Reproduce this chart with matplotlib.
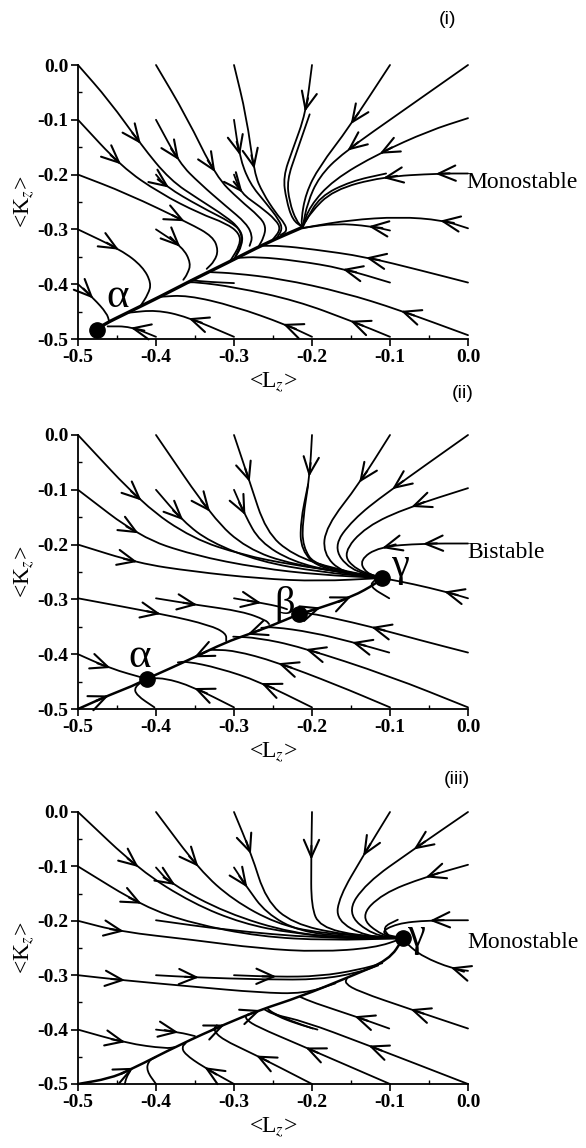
import matplotlib.pyplot as plt
import numpy as np
from matplotlib.path import Path
from matplotlib.patches import PathPatch

plt.rcParams['font.family'] = ['Liberation Serif', 'DejaVu Serif']
plt.rcParams['mathtext.fontset'] = 'stix'
plt.rcParams['axes.unicode_minus'] = False

# ---- panel (i): monostable, node alpha ----
p1_alpha = (-0.476, -0.484)
p1_manifold = [(-0.212, -0.296), (-0.259, -0.325), (-0.310, -0.362), (-0.353, -0.392),
               (-0.395, -0.423), (-0.438, -0.453), (-0.468, -0.474), (-0.476, -0.484)]
p1_curves = [
    [(-0.5, 0.0), (-0.46, -0.065), (-0.419, -0.146), (-0.382, -0.21), (-0.344, -0.246),
     (-0.31, -0.277), (-0.293, -0.298), (-0.289, -0.322), (-0.30, -0.355)],
    [(-0.5, -0.1), (-0.444, -0.186), (-0.395, -0.234), (-0.344, -0.271), (-0.31, -0.289),
     (-0.293, -0.307), (-0.292, -0.328), (-0.305, -0.358)],
    [(-0.5, -0.2), (-0.438, -0.234), (-0.357, -0.289), (-0.327, -0.313), (-0.320, -0.338),
     (-0.325, -0.358), (-0.335, -0.372)],
    [(-0.5, -0.3), (-0.444, -0.338), (-0.417, -0.368), (-0.406, -0.398), (-0.41, -0.418),
     (-0.42, -0.44)],
    [(-0.5, -0.4), (-0.48, -0.426), (-0.463, -0.453), (-0.46, -0.468)],
    [(-0.4, -0.1), (-0.37, -0.179), (-0.344, -0.216), (-0.31, -0.258), (-0.284, -0.289),
     (-0.276, -0.313), (-0.28, -0.33)],
    [(-0.4, -0.2), (-0.387, -0.222), (-0.344, -0.258), (-0.301, -0.289), (-0.289, -0.307),
     (-0.29, -0.33), (-0.298, -0.35)],
    [(-0.4, -0.3), (-0.366, -0.332), (-0.355, -0.362), (-0.36, -0.382), (-0.365, -0.392)],
    [(-0.4, 0.0), (-0.361, -0.094), (-0.323, -0.204), (-0.293, -0.246), (-0.267, -0.277),
     (-0.259, -0.295), (-0.262, -0.315), (-0.268, -0.33)],
    [(-0.3, 0.0), (-0.284, -0.094), (-0.274, -0.198), (-0.263, -0.234), (-0.246, -0.271),
     (-0.235, -0.289), (-0.232, -0.303), (-0.24, -0.31)],
    [(-0.3, -0.1), (-0.293, -0.167), (-0.280, -0.216), (-0.259, -0.252), (-0.242, -0.283),
     (-0.238, -0.30), (-0.245, -0.315)],
    [(-0.3, -0.2), (-0.291, -0.234), (-0.267, -0.258), (-0.246, -0.283), (-0.24, -0.30),
     (-0.25, -0.318)],
    [(-0.2, 0.0), (-0.208, -0.088), (-0.225, -0.155), (-0.237, -0.204), (-0.233, -0.246),
     (-0.225, -0.283), (-0.212, -0.296)],
    [(-0.203, -0.09), (-0.22, -0.16), (-0.232, -0.21), (-0.229, -0.25), (-0.22, -0.285),
     (-0.212, -0.296)],
    [(-0.1, 0.0), (-0.152, -0.113), (-0.191, -0.186), (-0.208, -0.234), (-0.214, -0.283),
     (-0.212, -0.296)],
    [(0.0, 0.0), (-0.08, -0.08), (-0.161, -0.161), (-0.191, -0.204), (-0.206, -0.252),
     (-0.212, -0.296)],
    [(0.0, -0.097), (-0.05, -0.12), (-0.114, -0.161), (-0.173, -0.21), (-0.203, -0.258),
     (-0.212, -0.296)],
    [(0.0, -0.198), (-0.037, -0.198), (-0.11, -0.204), (-0.173, -0.228), (-0.203, -0.271),
     (-0.212, -0.296)],
    [(-0.105, -0.198), (-0.15, -0.212), (-0.19, -0.24), (-0.208, -0.285)],
    [(0.0, -0.298), (-0.033, -0.283), (-0.088, -0.277), (-0.152, -0.283), (-0.203, -0.295),
     (-0.212, -0.298)],
    [(-0.1, -0.302), (-0.125, -0.294), (-0.17, -0.289), (-0.21, -0.297)],
    [(0.0, -0.397), (-0.06, -0.375), (-0.131, -0.35), (-0.2, -0.336), (-0.24, -0.33),
     (-0.262, -0.33)],
    [(-0.1, -0.397), (-0.161, -0.371), (-0.22, -0.357), (-0.27, -0.35), (-0.295, -0.352)],
    [(0.0, -0.493), (-0.088, -0.447), (-0.16, -0.415), (-0.24, -0.39), (-0.3, -0.38),
     (-0.33, -0.378)],
    [(-0.1, -0.496), (-0.148, -0.468), (-0.22, -0.43), (-0.30, -0.405), (-0.35, -0.396),
     (-0.36, -0.397)],
    [(-0.2, -0.496), (-0.233, -0.474), (-0.30, -0.44), (-0.36, -0.42), (-0.395, -0.423)],
    [(-0.3, -0.496), (-0.361, -0.459), (-0.40, -0.447), (-0.435, -0.452)],
    [(-0.4, -0.496), (-0.433, -0.477), (-0.462, -0.477)],
    [(-0.3, -0.398), (-0.33, -0.396), (-0.355, -0.393)],
]
p1_arrow_at = [[2], [1], [2], [1], [1], [1], [1], [1], [2], [2], [1], [1], [1], [], [1], [2],
               [2], [1, 2], [], [1], [1], [2], [1], [1], [1], [1], [1], [1], []]

# ---- panel (ii): bistable, nodes alpha, gamma and saddle beta ----
p2_alpha = (-0.412, -0.445)
p2_beta = (-0.217, -0.327)
p2_gamma = (-0.110, -0.261)
p2_manifold = [
    [(-0.217, -0.327), (-0.25, -0.347), (-0.284, -0.365), (-0.31, -0.378), (-0.353, -0.407),
     (-0.382, -0.426), (-0.412, -0.445)],
    [(-0.217, -0.327), (-0.191, -0.316), (-0.148, -0.295), (-0.118, -0.271), (-0.11, -0.261)],
    [(-0.5, -0.5), (-0.459, -0.474), (-0.43, -0.458), (-0.412, -0.445)],
]
p2_manifold_arrows = [[2, 4], [1, 2], [1]]
p2_curves = [
    [(-0.5, 0.0), (-0.416, -0.128), (-0.353, -0.189), (-0.289, -0.219), (-0.225, -0.237),
     (-0.16, -0.25), (-0.11, -0.261)],
    [(-0.5, -0.1), (-0.421, -0.186), (-0.353, -0.219), (-0.267, -0.243), (-0.191, -0.255),
     (-0.11, -0.261)],
    [(-0.5, -0.2), (-0.423, -0.234), (-0.353, -0.249), (-0.267, -0.262), (-0.191, -0.267),
     (-0.11, -0.261)],
    [(-0.4, 0.0), (-0.327, -0.152), (-0.284, -0.207), (-0.225, -0.237), (-0.11, -0.261)],
    [(-0.3, 0.0), (-0.28, -0.085), (-0.259, -0.176), (-0.225, -0.219), (-0.17, -0.245),
     (-0.11, -0.261)],
    [(-0.4, -0.1), (-0.365, -0.158), (-0.331, -0.195), (-0.267, -0.231), (-0.19, -0.25),
     (-0.11, -0.261)],
    [(-0.3, -0.1), (-0.286, -0.146), (-0.267, -0.195), (-0.225, -0.231), (-0.17, -0.25),
     (-0.11, -0.261)],
    [(-0.2, 0.0), (-0.203, -0.076), (-0.212, -0.155), (-0.212, -0.204), (-0.195, -0.240),
     (-0.11, -0.261)],
    [(-0.205, -0.09), (-0.215, -0.16), (-0.214, -0.21), (-0.19, -0.245), (-0.11, -0.261)],
    [(-0.1, 0.0), (-0.139, -0.088), (-0.182, -0.167), (-0.186, -0.216), (-0.161, -0.252),
     (-0.11, -0.261)],
    [(0.0, 0.0), (-0.105, -0.106), (-0.148, -0.155), (-0.173, -0.204), (-0.152, -0.246),
     (-0.11, -0.261)],
    [(0.0, -0.097), (-0.075, -0.131), (-0.131, -0.167), (-0.161, -0.216), (-0.144, -0.246),
     (-0.11, -0.261)],
    [(0.0, -0.198), (-0.058, -0.198), (-0.114, -0.204), (-0.139, -0.228), (-0.131, -0.252),
     (-0.11, -0.261)],
    [(0.0, -0.298), (-0.029, -0.286), (-0.07, -0.272), (-0.11, -0.261)],
    [(-0.101, -0.298), (-0.127, -0.276), (-0.118, -0.263)],
    [(-0.4, -0.298), (-0.348, -0.310), (-0.289, -0.322), (-0.259, -0.338), (-0.255, -0.345)],
    [(-0.3, -0.298), (-0.263, -0.307), (-0.242, -0.313), (-0.232, -0.318)],
    [(-0.5, -0.298), (-0.387, -0.328), (-0.331, -0.347), (-0.310, -0.362), (-0.31, -0.376)],
    [(-0.5, -0.4), (-0.459, -0.426), (-0.412, -0.445)],
    [(-0.402, -0.497), (-0.425, -0.475), (-0.428, -0.46), (-0.412, -0.445)],
    [(-0.3, -0.497), (-0.353, -0.459), (-0.39, -0.443), (-0.412, -0.445)],
    [(-0.2, -0.497), (-0.267, -0.450), (-0.32, -0.425), (-0.361, -0.413), (-0.372, -0.415)],
    [(-0.1, -0.497), (-0.17, -0.455), (-0.246, -0.414), (-0.30, -0.393), (-0.33, -0.392)],
    [(0.0, -0.497), (-0.1, -0.44), (-0.216, -0.386), (-0.27, -0.37), (-0.301, -0.368)],
    [(0.0, -0.397), (-0.06, -0.375), (-0.127, -0.349), (-0.17, -0.335), (-0.203, -0.325),
     (-0.215, -0.326)],
    [(-0.101, -0.397), (-0.148, -0.378), (-0.2, -0.36), (-0.25, -0.35), (-0.265, -0.352)],
]
p2_arrow_at = [[1], [1], [1], [1], [1], [1], [1], [1], [], [1], [1], [1], [1, 2], [1], [],
               [1], [1], [1], [1], [], [1], [1], [2], [2], [2], [1]]

# ---- panel (iii): monostable, node gamma ----
p3_gamma = (-0.083, -0.232)
p3_manifold = [(-0.5, -0.5), (-0.46, -0.49), (-0.433, -0.474), (-0.37, -0.428),
               (-0.31, -0.389), (-0.267, -0.364), (-0.216, -0.340), (-0.152, -0.303),
               (-0.101, -0.272), (-0.083, -0.232)]
p3_manifold_arrows = [2, 4, 5]
p3_curves = [
    [(-0.5, 0.0), (-0.421, -0.107), (-0.353, -0.168), (-0.289, -0.205), (-0.225, -0.223),
     (-0.15, -0.232), (-0.083, -0.232)],
    [(-0.5, -0.1), (-0.416, -0.174), (-0.353, -0.205), (-0.267, -0.229), (-0.18, -0.236),
     (-0.083, -0.232)],
    [(-0.5, -0.2), (-0.446, -0.220), (-0.353, -0.235), (-0.267, -0.251), (-0.191, -0.257),
     (-0.12, -0.25), (-0.083, -0.232)],
    [(-0.4, -0.199), (-0.31, -0.217), (-0.191, -0.232), (-0.083, -0.232)],
    [(-0.5, -0.3), (-0.444, -0.309), (-0.353, -0.321), (-0.267, -0.332), (-0.21, -0.334),
     (-0.17, -0.315)],
    [(-0.4, -0.3), (-0.35, -0.304), (-0.26, -0.308), (-0.19, -0.308), (-0.14, -0.295),
     (-0.115, -0.282)],
    [(-0.3, -0.3), (-0.246, -0.303), (-0.19, -0.302), (-0.14, -0.29), (-0.11, -0.278)],
    [(-0.4, 0.0), (-0.344, -0.107), (-0.301, -0.162), (-0.246, -0.205), (-0.191, -0.223),
     (-0.083, -0.232)],
    [(-0.4, -0.102), (-0.382, -0.131), (-0.31, -0.186), (-0.225, -0.223), (-0.15, -0.232),
     (-0.083, -0.232)],
    [(-0.3, 0.0), (-0.278, -0.076), (-0.259, -0.162), (-0.225, -0.205), (-0.16, -0.226),
     (-0.083, -0.232)],
    [(-0.3, -0.102), (-0.284, -0.137), (-0.259, -0.186), (-0.216, -0.220), (-0.15, -0.23),
     (-0.083, -0.232)],
    [(-0.2, 0.0), (-0.201, -0.088), (-0.201, -0.174), (-0.19, -0.211), (-0.14, -0.228),
     (-0.083, -0.232)],
    [(-0.1, 0.0), (-0.135, -0.082), (-0.165, -0.156), (-0.169, -0.199), (-0.131, -0.229),
     (-0.083, -0.232)],
    [(0.0, 0.0), (-0.071, -0.070), (-0.131, -0.131), (-0.156, -0.186), (-0.122, -0.227),
     (-0.083, -0.232)],
    [(0.0, -0.097), (-0.054, -0.119), (-0.110, -0.150), (-0.139, -0.193), (-0.11, -0.228),
     (-0.083, -0.232)],
    [(0.0, -0.199), (-0.05, -0.199), (-0.092, -0.205), (-0.114, -0.223), (-0.083, -0.232)],
    [(-0.09, -0.198), (-0.11, -0.212), (-0.1, -0.23)],
    [(0.0, -0.292), (-0.02, -0.288), (-0.058, -0.266), (-0.078, -0.243), (-0.083, -0.232)],
    [(0.0, -0.398), (-0.075, -0.362), (-0.14, -0.33), (-0.158, -0.315), (-0.155, -0.305)],
    [(-0.101, -0.398), (-0.144, -0.376), (-0.199, -0.35), (-0.215, -0.34)],
    [(-0.199, -0.398), (-0.225, -0.385), (-0.25, -0.37), (-0.258, -0.36)],
    [(-0.193, -0.400), (-0.22, -0.389), (-0.245, -0.375), (-0.255, -0.365)],
    [(0.0, -0.5), (-0.135, -0.425), (-0.21, -0.385), (-0.25, -0.372), (-0.262, -0.362)],
    [(-0.1, -0.5), (-0.216, -0.428), (-0.27, -0.395), (-0.284, -0.382), (-0.285, -0.375)],
    [(-0.2, -0.5), (-0.276, -0.444), (-0.315, -0.418), (-0.327, -0.40), (-0.322, -0.392)],
    [(-0.3, -0.5), (-0.34, -0.468), (-0.363, -0.445), (-0.367, -0.432), (-0.362, -0.425)],
    [(-0.4, -0.5), (-0.412, -0.476), (-0.41, -0.458), (-0.4, -0.45)],
    [(-0.44, -0.5), (-0.438, -0.488), (-0.433, -0.476)],
    [(-0.5, -0.4), (-0.438, -0.425), (-0.387, -0.435), (-0.375, -0.432)],
    [(-0.4, -0.4), (-0.37, -0.405), (-0.35, -0.412)],
]
p3_arrow_at = [[1], [1], [1], [], [1], [1], [1], [1], [1], [1], [1], [1], [1], [1], [1], [1],
               [], [1], [1], [1], [], [], [1], [1], [1], [1], [], [], [1], [1]]

ticks = [-0.5, -0.4, -0.3, -0.2, -0.1, 0.0]
tick_labels = ['-0.5', '-0.4', '-0.3', '-0.2', '-0.1', '0.0']

LW = 1.3


def smooth(pts):
    pts = np.asarray(pts, dtype=float)
    if len(pts) < 3:
        return Path(pts), pts
    mids = (pts[:-1] + pts[1:]) / 2
    verts = [pts[0], mids[0]]
    codes = [Path.MOVETO, Path.LINETO]
    for i in range(1, len(pts) - 1):
        verts += [pts[i], mids[i]]
        codes += [Path.CURVE3, Path.CURVE3]
    verts.append(pts[-1])
    codes.append(Path.LINETO)
    return Path(verts, codes), mids


def draw_curve(ax, pts, arrows, lw=LW):
    path, mids = smooth(pts)
    ax.add_patch(PathPatch(path, fill=False, lw=lw, ec='k', capstyle='round',
                           joinstyle='round', clip_on=False))
    pts = np.asarray(pts, dtype=float)
    for i in arrows:
        if 0 < i < len(pts) - 1:
            tip = 0.25 * mids[i - 1] + 0.5 * pts[i] + 0.25 * mids[i]
            tang = mids[i] - mids[i - 1]
        else:
            tip = pts[i]
            tang = pts[min(i + 1, len(pts) - 1)] - pts[max(i - 1, 0)]
        tp = ax.transData.transform(tip)
        d = ax.transData.transform(tip + tang * 1e-3) - tp
        d = d / np.hypot(*d)
        tail = ax.transData.inverted().transform(tp - d * 14)
        ax.annotate('', xy=tip, xytext=tail,
                    arrowprops=dict(arrowstyle='->,head_length=1.25,head_width=0.55',
                                    lw=1.5, color='k', shrinkA=0, shrinkB=0))


def setup(ax):
    ax.set_xlim(-0.5, 0.0)
    ax.set_ylim(-0.5, 0.0)
    for s in ['top', 'right']:
        ax.spines[s].set_visible(False)
    for s in ['left', 'bottom']:
        ax.spines[s].set_linewidth(1.3)
    ax.set_xticks(ticks)
    ax.set_xticklabels(tick_labels)
    ax.set_yticks(ticks)
    ax.set_yticklabels(tick_labels)
    ax.set_xticks(np.arange(-0.45, 0.0, 0.1), minor=True)
    ax.set_yticks(np.arange(-0.45, 0.0, 0.1), minor=True)
    ax.tick_params(which='major', direction='out', length=5, width=1.2, pad=2)
    ax.tick_params(which='minor', direction='in', length=3, width=1.0)
    for lab in ax.get_xticklabels() + ax.get_yticklabels():
        lab.set_fontsize(14)
        lab.set_fontweight('bold')
    ax.set_xlabel('<L$_z$>', fontsize=17)
    ax.set_ylabel('<K$_z$>', fontsize=17)
    ax.xaxis.set_label_coords(0.5, -0.115)
    ax.yaxis.set_label_coords(-0.105, 0.5)


W, H = 586, 1148
fig = plt.figure(figsize=(W / 100, H / 100), dpi=100)
left = 78 / W
width = 390 / W
ax1 = fig.add_axes([left, 1 - 339 / H, width, 274 / H])
ax2 = fig.add_axes([left, 1 - 709 / H, width, 274 / H])
ax3 = fig.add_axes([left, 1 - 1084 / H, width, 272 / H])
for ax in (ax1, ax2, ax3):
    setup(ax)

# panel (i)
draw_curve(ax1, p1_manifold, [], lw=2.4)
for c, a in zip(p1_curves, p1_arrow_at):
    draw_curve(ax1, c, a)
ax1.plot(*p1_alpha, 'o', ms=11, color='k', clip_on=False, zorder=5)
ax1.text(-0.449, -0.423, 'α', fontsize=31, ha='center', va='center')

# panel (ii)
for c, a in zip(p2_manifold, p2_manifold_arrows):
    draw_curve(ax2, c, a, lw=1.8)
for c, a in zip(p2_curves, p2_arrow_at):
    draw_curve(ax2, c, a)
for pt in (p2_alpha, p2_beta, p2_gamma):
    ax2.plot(*pt, 'o', ms=11, color='k', clip_on=False, zorder=5)
ax2.text(-0.421, -0.405, 'α', fontsize=31, ha='center', va='center')
ax2.text(-0.235, -0.310, 'β', fontsize=29, ha='center', va='center')
ax2.text(-0.086, -0.240, 'γ', fontsize=29, ha='center', va='center')

# panel (iii)
draw_curve(ax3, p3_manifold, p3_manifold_arrows, lw=1.8)
for c, a in zip(p3_curves, p3_arrow_at):
    draw_curve(ax3, c, a)
ax3.plot(*p3_gamma, 'o', ms=11, color='k', clip_on=False, zorder=5)
ax3.text(-0.066, -0.229, 'γ', fontsize=29, ha='center', va='center')

fig.text(466 / W, 1 - 182 / H, 'Monostable', fontsize=17, ha='left', va='center')
fig.text(467 / W, 1 - 553 / H, 'Bistable', fontsize=17, ha='left', va='center')
fig.text(467 / W, 1 - 943 / H, 'Monostable', fontsize=17, ha='left', va='center')

fig.text(447 / W, 1 - 20 / H, '(i)', fontsize=14, family='Liberation Sans',
         ha='center', va='center')
fig.text(463 / W, 1 - 393 / H, '(ii)', fontsize=14, family='Liberation Sans',
         ha='center', va='center')
fig.text(457 / W, 1 - 780 / H, '(iii)', fontsize=14, family='Liberation Sans',
         ha='center', va='center')

fig.savefig('out.png', dpi=100)
